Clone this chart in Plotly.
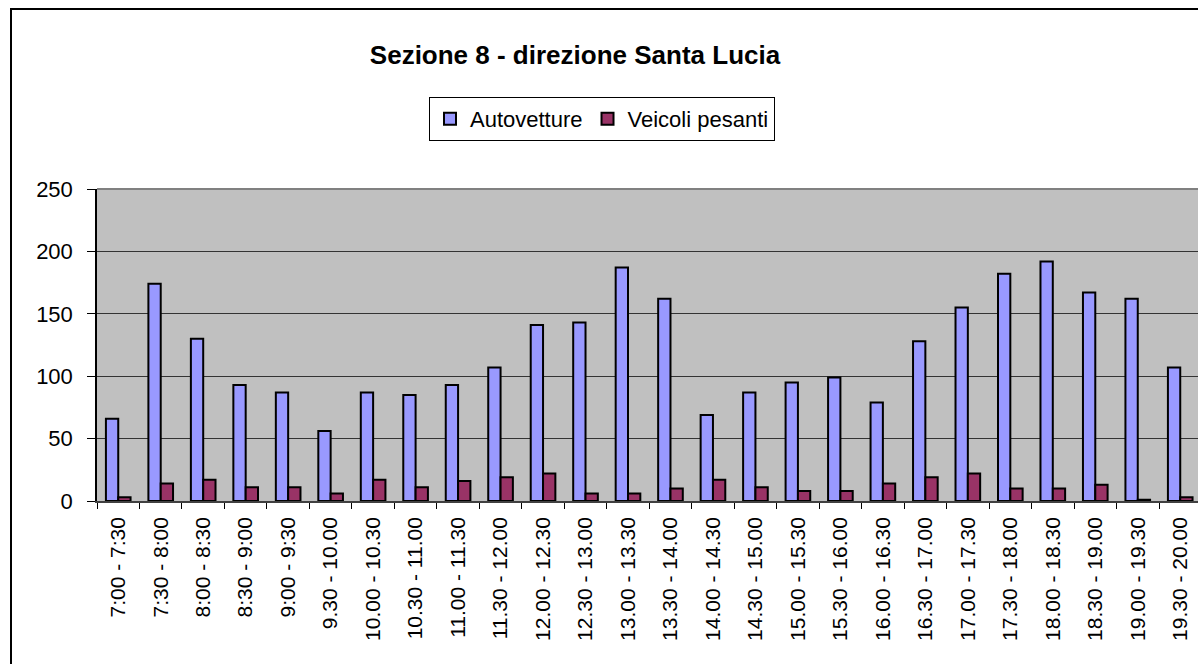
import plotly.graph_objects as go

categories = ["7:00 - 7:30", "7:30 - 8:00", "8:00 - 8:30", "8:30 - 9:00", "9:00 - 9:30",
              "9.30 - 10.00", "10.00 - 10.30", "10.30 - 11.00", "11.00 - 11.30", "11.30 - 12.00",
              "12.00 - 12.30", "12.30 - 13.00", "13.00 - 13.30", "13.30 - 14.00", "14.00 - 14.30",
              "14.30 - 15.00", "15.00 - 15.30", "15.30 - 16.00", "16.00 - 16.30", "16.30 - 17.00",
              "17.00 - 17.30", "17.30 - 18.00", "18.00 - 18.30", "18.30 - 19.00", "19.00 - 19.30",
              "19.30 - 20.00"]

autovetture = [66, 174, 130, 93, 87, 56, 87, 85, 93, 107, 141, 143, 187, 162, 69, 87, 95,
               99, 79, 128, 155, 182, 192, 167, 162, 107]
veicoli_pesanti = [3, 14, 17, 11, 11, 6, 17, 11, 16, 19, 22, 6, 6, 10, 17, 11, 8,
                   8, 14, 19, 22, 10, 10, 13, 1, 3]

y_ticks = [0, 50, 100, 150, 200, 250]

W, H = 1198, 664
L, T, R, B = 97, 189, 0, 664 - 501
pw = W - L - R
ph = H - T - B

font = "Liberation Sans, Arial, sans-serif"

fig = go.Figure()
fig.add_trace(go.Bar(x=categories, y=autovetture, name="Autovetture",
                     marker=dict(color="#9999FF", line=dict(color="black", width=2))))
fig.add_trace(go.Bar(x=categories, y=veicoli_pesanti, name="Veicoli pesanti",
                     marker=dict(color="#993366", line=dict(color="black", width=2))))

cat_w = 42.48
x_max = -0.5 + pw / cat_w

fig.update_layout(
    width=W, height=H,
    margin=dict(l=L, r=R, t=T, b=B, pad=0),
    paper_bgcolor="white",
    plot_bgcolor="#C0C0C0",
    barmode="group",
    bargap=0.42,
    bargroupgap=0,
    font=dict(family=font, color="black", size=20),
    title=dict(text="<b>Sezione 8 - direzione Santa Lucia</b>",
               x=575 / W, xanchor="center", y=1 - 55 / H, yanchor="middle",
               font=dict(size=26, family=font, color="black")),
    showlegend=True,
    legend=dict(orientation="h", x=(602 - L) / pw, xanchor="center",
                y=(H - B - 97) / ph, yanchor="top",
                bordercolor="black", borderwidth=1, bgcolor="white",
                font=dict(size=22, family=font, color="black"),
                itemwidth=30, tracegroupgap=0),
    xaxis=dict(type="category", range=[-0.5, x_max], showgrid=False,
               showline=True, linecolor="#404040", linewidth=1.5,
               ticks="outside", ticklen=6, tickcolor="black", tickwidth=1,
               tickson="boundaries", tickangle=-90,
               tickfont=dict(size=21, family=font, color="black"),
               ticklabelstandoff=6, fixedrange=True),
    yaxis=dict(range=[0, 250], tickvals=y_ticks, showgrid=True,
               gridcolor="#333333", gridwidth=1,
               showline=True, linecolor="black", linewidth=1.5,
               ticks="outside", ticklen=8, tickcolor="black", tickwidth=1,
               tickfont=dict(size=22, family=font, color="black"),
               ticklabelstandoff=10,
               zeroline=False, fixedrange=True),
)

# top border of plot area (gray)
fig.add_shape(type="line", xref="paper", yref="paper", x0=0, x1=1, y0=1, y1=1,
              line=dict(color="#808080", width=2), layer="above")

# outer chart frame (extends beyond the visible picture on right and bottom)
fig.add_shape(type="rect", xref="paper", yref="paper",
              x0=(11 - L) / pw, x1=(W + 20 - L) / pw,
              y0=-(B + 20) / ph, y1=(H - B - 9) / ph,
              line=dict(color="black", width=2), fillcolor="rgba(0,0,0,0)", layer="below")

fig.write_html("out.html",
               config={"displayModeBar": False},
               post_script="document.body.style.margin='0';document.body.style.overflow='hidden';")
